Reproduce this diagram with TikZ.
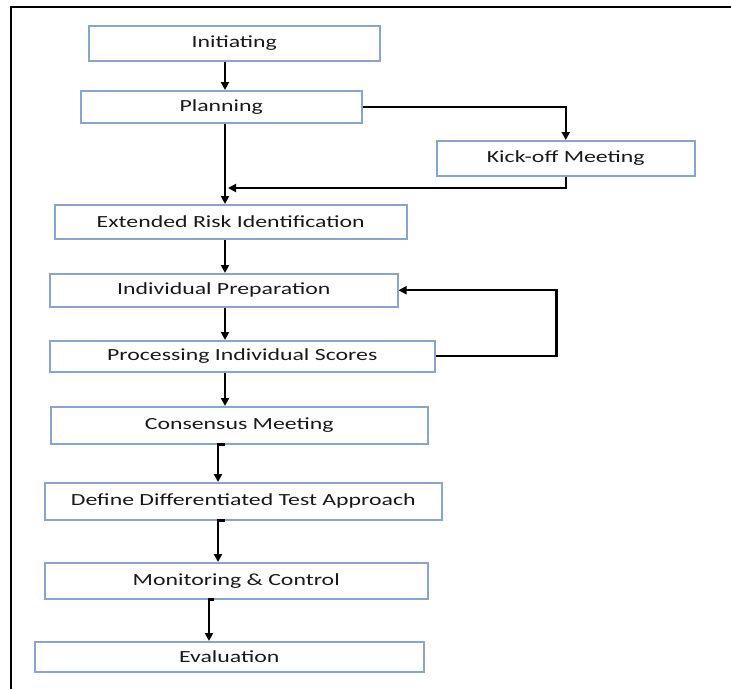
\documentclass[tikz,border=0pt]{standalone}
\usepackage{fontspec}
\setmainfont{Carlito}[FakeStretch=1.4]
\usepackage{tikz}
\usetikzlibrary{positioning,arrows.meta}
\definecolor{boxblue}{RGB}{135,165,205}
\definecolor{txtgray}{RGB}{25,25,25}

\begin{document}
\begin{tikzpicture}[x=1pt, y=-1pt,
        stage/.style={draw=boxblue, line width=1.5pt, rectangle, anchor=north west,
            inner sep=0pt, align=center, text=txtgray,
            font=\fontsize{17}{19}\selectfont},
        flow/.style={->, line width=2.2pt},
        >={Triangle[length=8pt,width=8pt]}
    ]
        \useasboundingbox (0,0) rectangle (731,689);
        % outer frame (top and left edge only)
        \draw [line width=2pt] (731,7) -- (11,7) -- (11,689);

        \node [stage, minimum width=291pt, minimum height=35pt] (init) at (88,25) {Initiating};
        \node [stage, minimum width=281pt, minimum height=32pt] (plan) at (80,90) {Planning};
        \node [stage, minimum width=258pt, minimum height=35pt] (kick) at (436,140) {Kick-off Meeting};
        \node [stage, minimum width=352pt, minimum height=34pt] (risk) at (54,204) {Extended Risk Identification};
        \node [stage, minimum width=348pt, minimum height=33pt] (prep) at (49,273) {Individual Preparation};
        \node [stage, minimum width=385pt, minimum height=31pt] (score) at (49,340) {Processing Individual Scores};
        \node [stage, minimum width=377pt, minimum height=37pt] (cons) at (50,406) {Consensus Meeting};
        \node [stage, minimum width=397pt, minimum height=37pt] (dta) at (44,482) {Define Differentiated Test Approach};
        \node [stage, minimum width=383pt, minimum height=36pt] (mon) at (44,562) {Monitoring \& Control};
        \node [stage, minimum width=389pt, minimum height=30pt] (eval) at (34,641) {Evaluation};

        % columns of the down arrows
        \coordinate (colA) at (225,0);
        \coordinate (colB) at (225,0);
        \coordinate (colC) at (218,0);
        \coordinate (colD) at (214,0);
        \coordinate (colE) at (209,0);
        \coordinate (merge) at (228,188);

        \draw [flow] (init.south -| colA) -- (plan.north -| colA);
        \draw [flow] (plan.east) -| (kick.north);
        \draw [flow] (plan.south -| colA) -- (risk.north -| colA);
        \draw [flow] (kick.south) |- (merge);
        \draw [flow] (risk.south -| colB) -- (prep.north -| colB);
        \draw [flow] (prep.south -| colB) -- (score.north -| colB);
        \draw [flow] (score.east) -- ++(121,0) |- (prep.east);
        \draw [flow] (score.south -| colB) -- (cons.north -| colB);
        \draw [flow] (cons.south -| colB) -| (dta.north -| colC);
        \draw [flow] (dta.south -| colB) -| (mon.north -| colC);
        \draw [flow] (mon.south -| colD) -| (eval.north -| colE);
    \end{tikzpicture}
\end{document}
